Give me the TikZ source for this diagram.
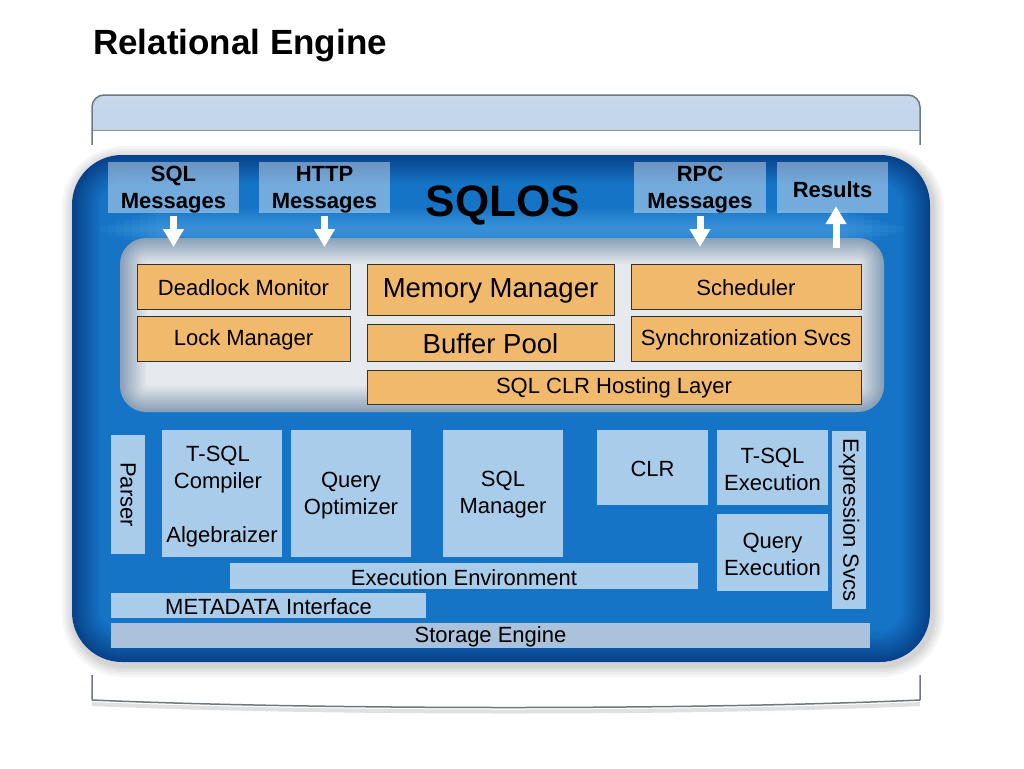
\documentclass[tikz,border=0pt]{standalone}
\usepackage{fontspec}
\setmainfont{Liberation Sans}
\usetikzlibrary{arrows.meta}
\definecolor{bdark}{HTML}{08428A}
\definecolor{blight}{HTML}{1574C6}
\definecolor{glowc}{HTML}{7CC8FF}
\definecolor{orangebox}{HTML}{F0B96C}
\definecolor{lbox}{HTML}{A9CCEB}
\definecolor{sbox}{HTML}{ABC2DC}
\definecolor{gedge}{HTML}{8AA1B8}
\definecolor{gmid}{HTML}{E6E9ED}
\definecolor{pborder}{HTML}{6E7882}
\definecolor{bandtop}{HTML}{C6D8EA}
\definecolor{bandmid}{HTML}{88AACF}
\definecolor{bandbot}{HTML}{C2D6EA}
\tikzset{
  panelline/.style={draw=pborder, line width=1.5pt},
  lbl/.style={fill=white, fill opacity=0.4, text opacity=1, inner sep=0pt,
    font=\bfseries\fontsize{22}{27}\selectfont, align=center},
  obox/.style={fill=orangebox, draw=black!80, line width=0.9pt, inner sep=0pt,
    font=\fontsize{22}{27}\selectfont, align=center},
  bigobox/.style={obox, font=\fontsize{27.5}{32}\selectfont},
  bbox/.style={fill=lbox, inner sep=0pt, font=\fontsize{22}{27}\selectfont, align=center},
  btxt/.style={font=\fontsize{22}{27}\selectfont, align=center, inner sep=0pt},
  arr/.style={draw=white, line width=7pt, -{Triangle[width=20pt,length=18pt]}},
}
\begin{document}
\begin{tikzpicture}[x=1pt,y=-1pt]
\fill[white] (0,0) rectangle (1024,768);
\useasboundingbox (0,0) rectangle (1024,768);

% title
\node[anchor=base west, inner sep=0pt, font=\bfseries\fontsize{35}{40}\selectfont] (title) at (93,55) {Relational Engine};

% upper framing panel
\begin{scope}
  \clip[rounded corners=12pt] (92,95) rectangle (920,720);
  \shade[top color=bandtop, middle color=bandmid, bottom color=bandbot] (92,95) rectangle (920,130);
\end{scope}
\draw[draw=pborder!80, line width=1pt] (93,130) -- (919,130);
\draw[panelline, rounded corners=12pt] (92,700) -- (92,95) -- (920,95) -- (920,700);
\draw[draw=black!12, line width=4pt] (92,704) .. controls (320,714) and (700,714) .. (920,704);
\draw[panelline] (92,700) .. controls (320,710) and (700,710) .. (920,700);

% white cover behind the blue block
\fill[white] (60,145) rectangle (940,675);

% shadow of the blue block
\foreach \w in {24,19,14,9,5}{
  \draw[black, opacity=0.035, line width=\w pt, rounded corners=50pt] (74,158) rectangle (932,665);
}

% blue SQLOS block (layered gradient)
\foreach \i in {0,...,15}{
  \pgfmathtruncatemacro\p{\i*100/15}
  \pgfmathsetmacro\d{\i*1.9}
  \pgfmathsetmacro\r{max(50-\d,6)}
  \fill[blight!\p!bdark, rounded corners=\r pt] (72+\d,155+\d) rectangle (930-\d,662-\d*1.1);
}
\node[inner sep=0pt, minimum width=858pt, minimum height=507pt] (blk) at (501,408.5) {};

% light glow band
\begin{scope}
  \clip[rounded corners=30pt] (92,170) rectangle (910,640);
  \foreach \k in {0,...,7}{
    \fill[glowc, opacity=0.055] ({100+8*\k},{226-2.5*\k}) rectangle ({904-8*\k},{232+2.5*\k});
  }
\end{scope}

% top message labels
\node[lbl, minimum width=131pt, minimum height=51pt] (sqlm) at (173.5,187.5) {};
\node[lbl, minimum width=131pt, minimum height=51pt] (httpm) at (324.5,187.5) {};
\node[lbl, minimum width=132pt, minimum height=51pt] (rpcm) at (700,187.5) {};
\node[lbl, minimum width=111pt, minimum height=51pt] (res) at (832.5,187.5) {};
\node[lbl, fill=none] at (173.5,189.5) {SQL\\Messages};
\node[lbl, fill=none] at (324.5,189.5) {HTTP\\Messages};
\node[lbl, fill=none] at (700,189.5) {RPC\\Messages};
\node[lbl, fill=none] at (832.5,189.5) {Results};
\node[inner sep=0pt, font=\bfseries\fontsize{44}{50}\selectfont] (sqlos) at (503,205) {SQLOS};

% grey inner panel (layered gradient)
\foreach \i in {0,...,13}{
  \pgfmathtruncatemacro\p{\i*100/13}
  \pgfmathsetmacro\d{\i*2}
  \pgfmathsetmacro\r{max(26-\d,3)}
  \fill[gmid!\p!gedge, rounded corners=\r pt] (120+\d,238+\d) rectangle (884-\d,412-\d);
}
\node[inner sep=0pt, minimum width=764pt, minimum height=174pt] (os) at (502,325) {};

% orange SQLOS components
\node[obox, minimum width=213pt, minimum height=45pt] (dead) at (243.5,286.5) {};
\node[btxt] at (243.5,288) {Deadlock Monitor};
\node[obox, minimum width=213pt, minimum height=45pt] (lock) at (243.5,338.5) {};
\node[btxt] at (243.5,340) {Lock Manager};
\node[bigobox, minimum width=247pt, minimum height=51pt] (mem) at (490.5,289.5) {};
\node[btxt, font=\fontsize{27.5}{32}\selectfont] at (490.5,291) {Memory Manager};
\node[bigobox, minimum width=247pt, minimum height=37pt] (buf) at (490.5,342.5) {};
\node[btxt, font=\fontsize{27.5}{32}\selectfont] at (490.5,344) {Buffer Pool};
\node[obox, minimum width=230pt, minimum height=45pt] (sched) at (746,286.5) {};
\node[btxt] at (746,288) {Scheduler};
\node[obox, minimum width=230pt, minimum height=45pt] (sync) at (746,338.5) {};
\node[btxt] at (746,340) {Synchronization Svcs};
\node[obox, minimum width=494pt, minimum height=34pt] (clrh) at (614,387) {};
\node[btxt] at (614,388) {SQL CLR Hosting Layer};

% relational engine components
\node[bbox, minimum width=34pt, minimum height=119pt] (parser) at (128,494.5) {};
\node[btxt, rotate=-90] at (parser.center) {Parser};
\node[bbox, minimum width=120pt, minimum height=127pt] (tsql) at (222,493.5) {};
\node[btxt] at (218,470) {T-SQL\\Compiler};
\node[btxt] at (222,537) {Algebraizer};
\node[bbox, minimum width=120pt, minimum height=127pt] (qopt) at (351,493.5) {};
\node[btxt] at (351,496) {Query\\Optimizer};
\node[bbox, minimum width=120pt, minimum height=127pt] (sqlmgr) at (503,493.5) {};
\node[btxt] at (503,495) {SQL\\Manager};
\node[bbox, minimum width=111pt, minimum height=75pt] (clr) at (652.5,467.5) {};
\node[btxt] at (652.5,468.5) {CLR};
\node[bbox, minimum width=111pt, minimum height=75pt] (tsqlx) at (772.5,467.5) {};
\node[btxt] at (772.5,469) {T-SQL\\Execution};
\node[bbox, minimum width=111pt, minimum height=77pt] (qx) at (772.5,552.5) {};
\node[btxt] at (772.5,554) {Query\\Execution};
\node[bbox, minimum width=34pt, minimum height=178pt] (expr) at (849,520) {};
\node[btxt, rotate=-90] at (expr.center) {Expression Svcs};
\node[bbox, minimum width=468pt, minimum height=26pt] (exenv) at (464,576) {};
\node[btxt] at (464,577.5) {Execution Environment};
\node[bbox, minimum width=315pt, minimum height=25pt] (meta) at (268.5,605.5) {};
\node[btxt] at (268.5,607) {METADATA Interface};
\node[bbox, fill=sbox, minimum width=759pt, minimum height=25pt] (stor) at (490.5,635.5) {};
\node[btxt] at (490.5,637) {Storage Engine};

% arrows
\coordinate (a1) at (173.5,247);
\coordinate (a2) at (324.5,247);
\coordinate (a3) at (700,247);
\coordinate (a4) at (836,248);
\draw[arr] ([yshift=-3pt]sqlm.south) -- (a1);
\draw[arr] ([yshift=-3pt]httpm.south) -- (a2);
\draw[arr] ([yshift=-3pt]rpcm.south) -- (a3);
\draw[arr, shorten >=-7pt] (a4) -- (res.south -| a4);
\end{tikzpicture}
\end{document}
